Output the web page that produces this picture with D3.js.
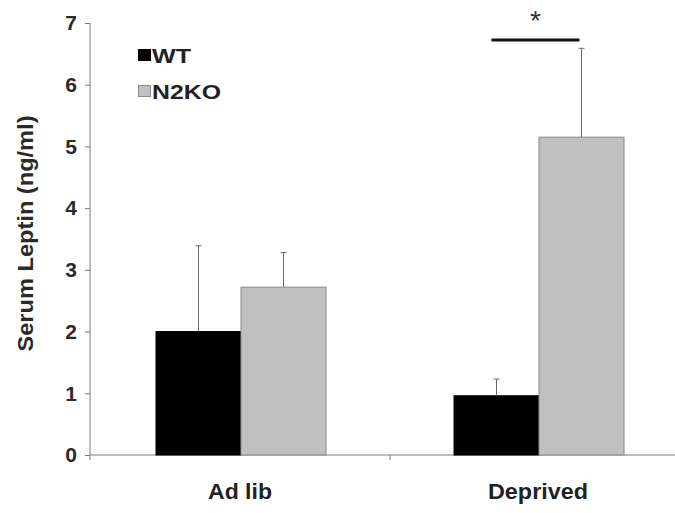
<!DOCTYPE html>
<html><head><meta charset="utf-8">
<script src="https://cdn.jsdelivr.net/npm/d3@7"></script>
<style>body{margin:0;background:#fff}svg{display:block}text{font-family:"Liberation Sans",Arial,sans-serif}</style>
</head><body><div id="chart"></div>
<script>
const categories = ["Ad lib", "Deprived"];
const seriesNames = ["WT", "N2KO"];
const wtValues = [2.0, 0.96];
const wtErrors = [1.39, 0.27];
const n2koValues = [2.72, 5.15];
const n2koErrors = [0.56, 1.44];
const yTicks = [0, 1, 2, 3, 4, 5, 6, 7];
const yLabel = "Serum Leptin (ng/ml)";
const sigLabel = "*";

const W = 675, H = 513;
const colors = {WT: "#000000", N2KO: "#c0c0c0"};
const rows = [];
categories.forEach((c, i) => {
  rows.push({cat: c, s: "WT", v: wtValues[i], e: wtErrors[i]});
  rows.push({cat: c, s: "N2KO", v: n2koValues[i], e: n2koErrors[i]});
});

const svg = d3.select("#chart").append("svg").attr("width", W).attr("height", H);
const y = d3.scaleLinear().domain([0, 7]).range([455, 23]);
const x = d3.scaleBand().domain(categories).range([92, 688]).padding(0);
const x1 = d3.scaleBand().domain(seriesNames).range([0, 170]).padding(0);
const off = (x.bandwidth() - 170) / 2;

// y axis
const ya = svg.append("g").attr("transform", "translate(90,0)")
  .call(d3.axisLeft(y).tickValues(yTicks).tickSize(5).tickPadding(8).tickFormat(d3.format("d")));
ya.select(".domain").attr("stroke", "#7a7a7a").attr("d", `M0,${y(7)}V${y(0)}`);
ya.selectAll(".tick line").attr("stroke", "#7a7a7a");
ya.selectAll(".tick text").attr("font-size", 21).attr("font-weight", "bold").attr("fill", "#2a2a2a")
  .attr("font-family", "'Liberation Sans',Arial,sans-serif");

// x axis
svg.append("line").attr("x1", 90).attr("x2", W).attr("y1", y(0)).attr("y2", y(0)).attr("stroke", "#7a7a7a");
const bounds = [90, x(categories[0]) + x.step()];
svg.selectAll(".xt").data(bounds).enter().append("line")
  .attr("x1", d => d).attr("x2", d => d).attr("y1", y(0)).attr("y2", y(0) + 5).attr("stroke", "#7a7a7a");
svg.selectAll(".xl").data(categories).enter().append("text")
  .attr("x", d => x(d) + x.bandwidth() / 2 - 1).attr("y", 499)
  .attr("text-anchor", "middle").attr("font-size", 22).attr("font-weight", "bold").attr("fill", "#222")
  .attr("textLength", (d, i) => [64, 100][i]).attr("lengthAdjust", "spacingAndGlyphs")
  .text(d => d);

// y label
svg.append("text").attr("transform", `translate(33,${(115 + 352) / 2}) rotate(-90)`)
  .attr("text-anchor", "middle").attr("font-size", 22).attr("font-weight", "bold").attr("fill", "#2a2a2a")
  .attr("textLength", 236).attr("lengthAdjust", "spacingAndGlyphs")
  .text(yLabel);

// bars
const g = svg.append("g");
g.selectAll("rect.bar").data(rows).enter().append("rect")
  .attr("x", d => x(d.cat) + off + x1(d.s))
  .attr("y", d => y(d.v))
  .attr("width", x1.bandwidth())
  .attr("height", d => y(0) - y(d.v))
  .attr("fill", d => colors[d.s])
  .attr("stroke", d => d.s === "WT" ? "#000" : "#8a8a8a").attr("stroke-width", 1);

// error bars (upper only)
const eb = g.selectAll("g.err").data(rows).enter().append("g");
eb.append("line")
  .attr("x1", d => x(d.cat) + off + x1(d.s) + x1.bandwidth() / 2)
  .attr("x2", d => x(d.cat) + off + x1(d.s) + x1.bandwidth() / 2)
  .attr("y1", d => y(d.v)).attr("y2", d => y(d.v + d.e))
  .attr("stroke", "#6a6a6a").attr("stroke-width", 1);
eb.append("line")
  .attr("x1", d => x(d.cat) + off + x1(d.s) + x1.bandwidth() / 2 - 3)
  .attr("x2", d => x(d.cat) + off + x1(d.s) + x1.bandwidth() / 2 + 3)
  .attr("y1", d => y(d.v + d.e)).attr("y2", d => y(d.v + d.e))
  .attr("stroke", "#6a6a6a").attr("stroke-width", 1);

// significance bar
const dc = categories[1];
const sx1 = x(dc) + off + x1("WT") + x1.bandwidth() / 2 - 5;
const sx2 = x(dc) + off + x1("N2KO") + x1.bandwidth() / 2 - 2;
svg.append("line").attr("x1", sx1).attr("x2", sx2).attr("y1", 40).attr("y2", 40)
  .attr("stroke", "#111").attr("stroke-width", 3);
svg.append("text").attr("x", (sx1 + sx2) / 2).attr("y", 30)
  .attr("text-anchor", "middle").attr("font-size", 28).attr("fill", "#333").text(sigLabel);

// legend
const leg = svg.append("g");
seriesNames.forEach((s, i) => {
  const yy = 49 + i * 36;
  leg.append("rect").attr("x", 138.5).attr("y", yy + 0.5).attr("width", 12).attr("height", 11)
    .attr("fill", colors[s]).attr("stroke", s === "WT" ? "#000" : "#8a8a8a");
  leg.append("text").attr("x", 152).attr("y", yy + 14).attr("font-size", 20).attr("font-weight", "bold")
    .attr("fill", "#222").attr("textLength", [39, 69][i]).attr("lengthAdjust", "spacingAndGlyphs").text(s);
});
</script></body></html>
